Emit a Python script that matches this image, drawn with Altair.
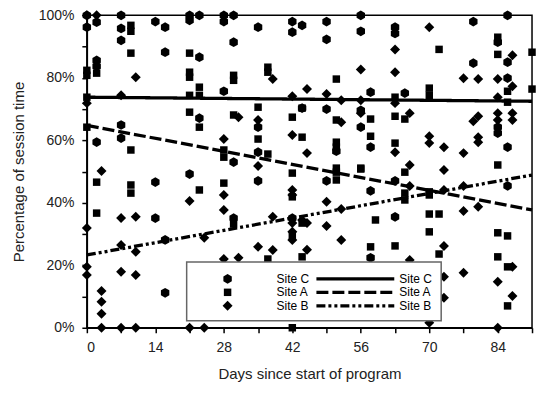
import altair as alt
import pandas as pd

SITES = ["Site C", "Site A", "Site B"]

# Site C (hexagons)
c_day = [0, 2, 0, 7, 7, 7, 14, 16, 21, 21, 23, 28, 28, 30, 30, 2, 2, 16, 23, 28, 23, 7, 7, 2, 30,
         35, 42, 42, 44, 49, 49, 56, 56, 58, 44, 49, 56, 56, 35, 51, 58, 35,
         86, 79, 63, 63, 84, 86, 79, 86, 65, 84, 84, 86,
         14, 21, 14, 30, 16, 16, 35, 49, 58, 42, 58, 63, 86, 63]
c_pct = [100, 97.8, 96.2, 100, 95.8, 92, 98, 96.2, 100, 98.4, 100, 100, 98, 100, 91.4, 85.6, 83.7, 88.2, 86.6, 75.7, 67.1, 64.9, 60.7, 59.4, 53,
         96.2, 98, 94.6, 96.8, 98, 92.3, 100, 94.9, 75.4, 70.3, 70, 69.6, 64.2, 64.2, 56.5, 57.8, 56.2,
         100, 98, 96.2, 94.2, 91.4, 85, 84.7, 79.9, 75.1, 64.2, 62.3, 57.8,
         46.6, 49.2, 35.1, 35.1, 28.1, 11.2, 47, 47, 43.8, 35.1, 22.4, 47, 45.4, 35.5]

# Site A (squares)
a_day = [9, 9, 9, 21, 2, 0, 0, 21, 21, 30, 30, 0, 21, 23, 23, 21, 23, 30, 0, 9, 28, 28,
         37, 37, 51, 35, 44, 42, 51, 58, 44, 35, 51, 51, 58, 37, 51, 56,
         84, 72, 84, 91, 86, 91, 63, 70, 70, 86, 63, 65, 63, 84,
         2, 9, 9, 23, 28, 2, 30,
         42, 42, 51, 51, 56, 44, 42, 37, 44, 58, 42, 59,
         65, 65, 65, 70, 70, 70, 72, 70, 84, 86, 63, 72, 84, 86, 86]
a_pct = [96.8, 94.9, 87.9, 87.9, 81.5, 82.4, 80.8, 81.8, 80.2, 80.8, 79.2, 73.8, 74.4, 77, 74.4, 69, 64.2, 68.1, 64.2, 56.9, 56.9, 54.6,
         83.4, 81.8, 79.6, 70.6, 70.3, 67.4, 66.5, 66.8, 61, 60.4, 59.4, 57.8, 61.3, 55.6, 51.1, 51.1,
         93, 89.1, 87.5, 88.2, 75.7, 76.4, 73.8, 76.7, 74.4, 72.2, 67.7, 66.8, 59.1, 52.1,
         46.6, 45.7, 43.1, 44.1, 46.3, 36.7, 33.2,
         49.5, 41.9, 49.8, 47.3, 50.8, 33.5, 29.4, 22, 22.7, 25.9, 0, 34.5,
         49.8, 43.1, 40.9, 43.5, 42.5, 36.4, 36.4, 30.7, 30.4, 29.4, 26.2, 23.6, 22.7, 19.5, 7]

# Site B (diamonds)
b_day = [0, 2, 10, 0, 7, 31, 28, 3,
         38, 56, 45, 49, 42, 52, 56, 52, 56, 35, 42, 45,
         70, 63, 87, 63, 77, 80, 84, 87, 63, 84, 66, 80, 79, 84, 84, 87, 87, 70, 70, 73, 80, 80, 77, 63, 66, 73,
         28, 21, 28, 7, 10, 0, 7, 10, 24, 0, 0, 7, 10, 28, 3, 3, 3, 3, 7, 10, 21, 24,
         35, 42, 42, 38, 49, 52, 42, 44, 45, 49, 42, 42, 52, 35, 38, 31, 45,
         66, 73, 77, 80, 77, 73, 66, 87, 77, 73, 84, 73, 87, 70, 84]
b_pct = [100, 100, 80.2, 71.9, 74.4, 67.4, 60.4, 50.2,
         79.6, 82.7, 76.4, 74.8, 74.1, 72.8, 72.8, 65.8, 68.7, 66.5, 61.7, 55.9,
         96.2, 89.1, 87.2, 81.8, 79.9, 79.6, 79.6, 77.3, 71.9, 73.8, 68.7, 67.7, 66.1, 68.7, 66.5, 68.7, 66.5, 61.3, 59.1, 57.8, 61, 59.4, 55.9, 56.2, 52.1, 50.5,
         42.5, 40.6, 37.7, 35.1, 35.5, 31.9, 26.5, 24.3, 28.8, 19.5, 16.9, 17.9, 16.9, 22, 11.8, 8.3, 4.5, 0, 0, 0, 0, 0,
         51.8, 44.1, 42.5, 35.5, 40.3, 38, 33.5, 34.5, 33.5, 32.6, 30.7, 28.1, 28.1, 25.9, 24.9, 22.4, 25,
         45.4, 44.1, 45.4, 38.7, 37.4, 26.2, 21.7, 19.5, 17.6, 16.3, 14.7, 9.6, 10.2, 1.6, 0]

# Trend lines (start and end values)
fit_day = [0, 91]
c_fit = [73.8, 72.5]
a_fit = [64.8, 37.7]
b_fit = [23.3, 48.9]

c_df = pd.DataFrame({"day": c_day, "pct": c_pct, "site": "Site C"})
a_df = pd.DataFrame({"day": a_day, "pct": a_pct, "site": "Site A"})
b_df = pd.DataFrame({"day": b_day, "pct": b_pct, "site": "Site B"})

lines = pd.concat([
    pd.DataFrame({"day": fit_day, "pct": c_fit, "series": "Site C"}),
    pd.DataFrame({"day": fit_day, "pct": a_fit, "series": "Site A"}),
    pd.DataFrame({"day": fit_day, "pct": b_fit, "series": "Site B"}),
], ignore_index=True)

legend_df = pd.DataFrame({"site": SITES, "series": SITES, "row": [0, 1, 2]})

hexagon = "M0,-1L0.866,-0.5L0.866,0.5L0,1L-0.866,0.5L-0.866,-0.5Z"
SHAPES = [hexagon, "square", "diamond"]
SIZES = [95, 56, 100]
DASHES = [[1, 0], [12, 4], [9, 3, 3, 3, 3, 3]]
LINE_W = 3.3

x = alt.X("day:Q",
          scale=alt.Scale(domain=[0, 91], nice=False, zero=False),
          axis=alt.Axis(values=list(range(0, 92, 7)),
                        labelExpr="datum.value % 14 == 0 ? datum.label : ''",
                        title="Days since start of program", titlePadding=12))
y = alt.Y("pct:Q",
          scale=alt.Scale(domain=[0, 100], nice=False),
          axis=alt.Axis(values=list(range(0, 101, 10)),
                        labelExpr="datum.value % 20 == 0 ? datum.value + '%' : ''",
                        title="Percentage of session time", titlePadding=12))

shape = alt.Shape("site:N", scale=alt.Scale(domain=SITES, range=SHAPES), legend=None)
dash = alt.StrokeDash("series:N", scale=alt.Scale(domain=SITES, range=DASHES), legend=None)


def layer_points(df, size):
    return alt.Chart(df).mark_point(filled=True, opacity=1, color="black", size=size).encode(
        x=x, y=y, shape=shape)


main = alt.layer(
    layer_points(c_df, SIZES[0]),
    layer_points(a_df, SIZES[1]),
    layer_points(b_df, SIZES[2]),
    alt.Chart(lines).mark_line(color="black", strokeWidth=LINE_W).encode(x=x, y=y, strokeDash=dash),
)

# ---- legend box (drawn with its own row scale) ----
ly = alt.Y("row:Q", scale=alt.Scale(domain=[0, 2], range=[264, 291]), axis=None)

frame = alt.Chart(alt.Data(values=[{}])).mark_rect(
    fill="white", stroke="#666666", strokeWidth=1.5
).encode(x=alt.value(100), x2=alt.value(355), y=alt.value(247), y2=alt.value(306))

leg_syms = [
    alt.Chart(legend_df[legend_df.site == s]).mark_point(
        filled=True, opacity=1, color="black", size=sz
    ).encode(x=alt.value(141), y=ly, shape=shape)
    for s, sz in zip(SITES, SIZES)
]
leg_lab1 = alt.Chart(legend_df).mark_text(
    align="left", baseline="middle", font="Liberation Sans", fontSize=12, color="black"
).encode(x=alt.value(190), y=ly, text="site:N")
leg_lines = alt.Chart(legend_df).mark_rule(color="black", strokeWidth=LINE_W).encode(
    x=alt.value(230), x2=alt.value(308), y=ly, strokeDash=dash)
leg_lab2 = alt.Chart(legend_df).mark_text(
    align="left", baseline="middle", font="Liberation Sans", fontSize=12, color="black"
).encode(x=alt.value(313), y=ly, text="series:N")

legend = alt.layer(frame, *leg_syms, leg_lab1, leg_lines, leg_lab2)

chart = alt.layer(main, legend).resolve_scale(y="independent").properties(
    width=446, height=313,
    autosize=alt.AutoSizeParams(type="none"),
    padding={"left": 79, "top": 7, "right": 10, "bottom": 60},
).configure_view(stroke="black", strokeWidth=1.5).configure_axis(
    grid=False, domainColor="black", domainWidth=1.5, tickColor="black", tickWidth=1.5,
    tickSize=5, labelPadding=8, labelFont="Liberation Sans", labelFontSize=14, labelColor="#222222",
    titleFont="Liberation Sans", titleFontSize=15, titleFontWeight="normal", titleColor="#222222",
)

chart.save("out.html", embed_options={"renderer": "svg", "actions": False})
